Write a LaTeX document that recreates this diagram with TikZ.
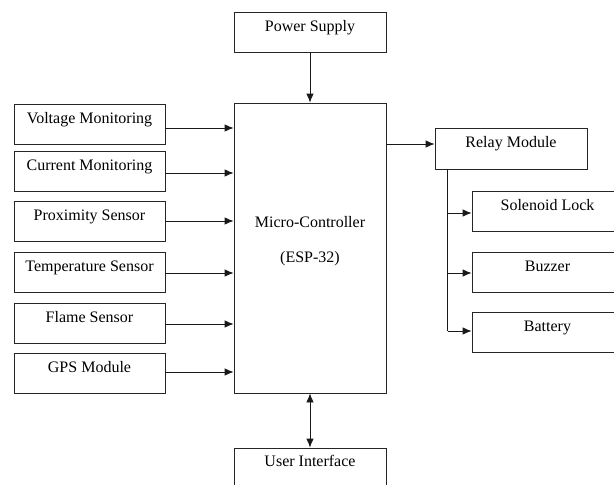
\documentclass[tikz,border=0pt]{standalone}
\usepackage{fontspec}
\setmainfont{Liberation Serif}
\usetikzlibrary{arrows.meta}
\begin{document}
\begin{tikzpicture}[x=1pt,y=-1pt,
  box/.style={draw=black!85, line width=0.8pt, inner sep=0pt, minimum width=151pt,
    text height=19.5pt, text depth=20.5pt, font=\fontsize{16}{19}\selectfont},
  lbl/.style={inner sep=0pt, anchor=base, font=\fontsize{16}{19}\selectfont},
  conn/.style={line width=0.8pt, draw=black!90},
  arr/.style={conn, -{Latex[length=9pt,width=7.5pt]}},
  darr/.style={conn, {Latex[length=9pt,width=7.5pt]}-{Latex[length=9pt,width=7.5pt]}}]
\useasboundingbox (0,0) rectangle (614,485);
\clip (0,0) rectangle (614,485);
% top / centre / bottom
\node[box, minimum width=152pt] (ps) at (310,32) {Power Supply};
\node[box, minimum width=152pt, text height=0pt, text depth=0pt, minimum height=290pt] (mc) at (310,248) {};
\node[lbl] (mct1) at (310,227) {Micro-Controller};
\node[lbl] (mct2) at (310,262) {(ESP-32)};
\node[box, minimum width=152pt, text height=18.5pt, text depth=21.5pt] (ui) at (310,468) {User Interface};
% left inputs
\node[box] (v) at (89.5,124) {Voltage Monitoring};
\node[box] (c) at (89.5,171) {Current Monitoring};
\node[box] (p) at (89.5,221) {Proximity Sensor};
\node[box] (t) at (89.5,272) {Temperature Sensor};
\node[box] (f) at (89.5,323) {Flame Sensor};
\node[box] (g) at (89.5,373) {GPS Module};
% right outputs
\node[box, minimum width=152pt, text height=19.5pt, text depth=21.5pt] (rm) at (511,148.5) {Relay Module};
\node[box] (sl) at (547.5,211) {Solenoid Lock};
\node[box] (bz) at (547.5,272) {Buzzer};
\node[box] (bt) at (547.5,332) {Battery};
% connectors
\draw[arr] (ps.south) -- (mc.north);
\draw[darr] (mc.south) -- (ui.north);
\draw[arr] ([yshift=-4pt]v.east) -- ([yshift=-4pt]v.east -| mc.west);
\draw[arr] ([yshift=-2pt]c.east) -- ([yshift=-2pt]c.east -| mc.west);
\draw[arr] (p.east) -- (p.east -| mc.west);
\draw[arr] ([yshift=-1pt]t.east) -- ([yshift=-1pt]t.east -| mc.west);
\draw[arr] ([yshift=-1pt]f.east) -- ([yshift=-1pt]f.east -| mc.west);
\draw[arr] ([yshift=1pt]g.east) -- ([yshift=1pt]g.east -| mc.west);
\draw[arr] ([yshift=4.5pt]rm.west -| mc.east) -- ([yshift=4.5pt]rm.west);
\coordinate (trunk) at ([xshift=13pt]rm.south west);
\draw[conn] (trunk) -- ([yshift=1pt]bt.west -| trunk);
\draw[arr] ([yshift=-2pt]sl.west -| trunk) -- ([yshift=-2pt]sl.west);
\draw[arr] ([yshift=-1pt]bz.west -| trunk) -- ([yshift=-1pt]bz.west);
\draw[arr] ([yshift=1pt]bt.west -| trunk) -- ([yshift=1pt]bt.west);
\end{tikzpicture}
\end{document}
